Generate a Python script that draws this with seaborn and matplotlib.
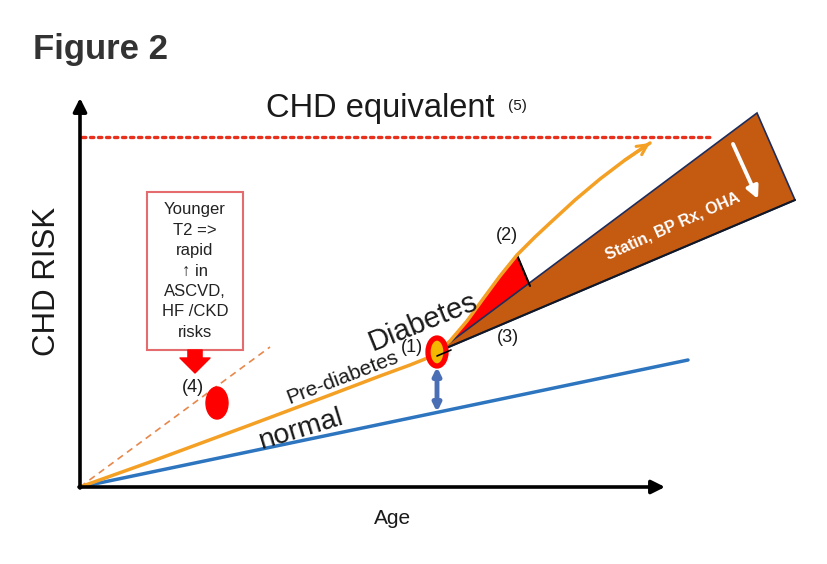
import matplotlib.pyplot as plt
import seaborn as sns
import pandas as pd
from matplotlib.patches import Ellipse, Rectangle

# coordinates: age / risk in arbitrary units (origin at the axes corner)
normal_age = [0, 608]
normal_risk = [0, 127]

curve_age = [0, 70, 170, 250, 300, 330, 345, 357, 370, 387, 403, 420, 437, 455, 470, 495, 520, 545, 570]
curve_risk = [0, 25, 62, 92, 111, 122, 128, 135, 146, 166, 188, 211, 232, 250, 264, 287, 308, 327, 344]

chd_age = [2, 630]
chd_risk = [350, 350]

wedge_age = [357, 677, 715]
wedge_risk = [135, 374, 287]

gap_age = [437, 450]
gap_risk = [232, 201]

young_age = [0, 190]
young_risk = [0, 140]

dx_age, dx_risk = 357, 135
young_dot_age, young_dot_risk = 137, 84

sns.set_theme(style='white')
plt.rcParams['font.family'] = ['Liberation Sans', 'DejaVu Sans']

fig = plt.figure(figsize=(8.28, 5.64), dpi=100)
ax = fig.add_axes([0, 0, 1, 1])
ax.set_xlim(-80, 748)
ax.set_ylim(-77, 487)
ax.axis('off')

orange = '#F4A024'
blue = '#2E75C0'
brown = '#C55A11'

# red area between curve and treatment wedge
i0 = curve_age.index(dx_age)
i1 = curve_age.index(gap_age[0])
red_x = curve_age[i0:i1 + 1] + [gap_age[1]]
red_y = curve_risk[i0:i1 + 1] + [gap_risk[1]]
ax.fill(red_x, red_y, color='#FF0000', zorder=2)
ax.plot(gap_age, gap_risk, color='black', lw=1.5, zorder=3)

# treatment wedge
ax.fill(wedge_age, wedge_risk, facecolor=brown, edgecolor='#1F2D5A', lw=1.2, zorder=2)
ax.plot([wedge_age[0], wedge_age[2]], [wedge_risk[0], wedge_risk[2]], color='#111827', lw=1.5, zorder=3)
ax.annotate('', xy=(678, 288), xytext=(653, 343),
            arrowprops=dict(arrowstyle='-|>', color='white', lw=2.8, mutation_scale=18,
                            shrinkA=0, shrinkB=0), zorder=4)
ax.text(593, 261, 'Statin, BP Rx, OHA', color='white', fontsize=11.5, fontweight='bold',
        rotation=24, ha='center', va='center', rotation_mode='anchor', zorder=4)

# CHD equivalent line
ax.plot(chd_age, chd_risk, color='#E8301C', lw=2.4, linestyle=(0, (1, 1.4)),
        dash_capstyle='round', zorder=2)

# curves
df_normal = pd.DataFrame({'age': normal_age, 'risk': normal_risk})
df_curve = pd.DataFrame({'age': curve_age, 'risk': curve_risk})
sns.lineplot(data=df_normal, x='age', y='risk', color=blue, lw=2.5, ax=ax, zorder=3)
sns.lineplot(data=df_curve, x='age', y='risk', color=orange, lw=2.5, ax=ax, zorder=3)
ax.annotate('', xy=(curve_age[-1], curve_risk[-1]), xytext=(curve_age[-2], curve_risk[-2]),
            arrowprops=dict(arrowstyle='->', color=orange, lw=2.2, mutation_scale=18,
                            shrinkA=0, shrinkB=0), zorder=3)
ax.plot(young_age, young_risk, color='#E8874A', lw=1.2, linestyle=(0, (4, 3)), zorder=2)

# markers
ax.add_patch(Ellipse((dx_age, dx_risk), 18, 28, facecolor='#F5B800', edgecolor='#FF0000',
                     lw=3.8, zorder=5))
ax.plot([dx_age, dx_age + 14], [dx_risk - 4, dx_risk + 2], color='black', lw=1.2, zorder=6)
ax.add_patch(Ellipse((young_dot_age, young_dot_risk), 22, 32, color='#FF0000', zorder=5))
ax.annotate('', xy=(dx_age, 75), xytext=(dx_age, 120),
            arrowprops=dict(arrowstyle='<|-|>', color='#4A6FB5', lw=3.5, mutation_scale=11,
                            shrinkA=0, shrinkB=0), zorder=4)

# axes arrows
ax.annotate('', xy=(0, 389), xytext=(0, -1),
            arrowprops=dict(arrowstyle='-|>', color='black', lw=2.6, mutation_scale=20,
                            shrinkA=0, shrinkB=0), zorder=6)
ax.annotate('', xy=(585, 0), xytext=(-1, 0),
            arrowprops=dict(arrowstyle='-|>', color='black', lw=2.6, mutation_scale=20,
                            shrinkA=0, shrinkB=0), zorder=6)

# text box with arrow
ax.add_patch(Rectangle((67, 137), 96, 158, facecolor='white', edgecolor='#E46C6E', lw=1.5, zorder=4))
ax.text(115, 216, 'Younger\nT2 =>\nrapid\n\u2191 in\nASCVD,\nHF /CKD\nrisks', fontsize=12,
        ha='center', va='center', linespacing=1.45, color='#222222', zorder=5)
ax.annotate('', xy=(115, 114), xytext=(115, 137),
            arrowprops=dict(arrowstyle='simple,head_width=1.8,head_length=0.9,tail_width=0.85',
                            color='#FF0000', shrinkA=0, shrinkB=0), zorder=5)

# labels
txt = '#1a1a1a'
ax.text(-47, 437, 'Figure 2', fontsize=25, fontweight='bold', ha='left', va='center', color='#333333')
ax.text(300, 379, 'CHD equivalent', fontsize=23.5, ha='center', va='center', color=txt)
ax.text(437, 381, '(5)', fontsize=11, ha='center', va='center', color=txt)
ax.text(-33, 206, 'CHD RISK', fontsize=22.5, rotation=90, ha='center', va='center', color=txt)
ax.text(313, -31, 'Age', fontsize=15, ha='center', va='center', color=txt)
ax.text(343, 165, 'Diabetes', fontsize=21, rotation=22, ha='center', va='center',
        rotation_mode='anchor', color=txt)
ax.text(262, 109, 'Pre-diabetes', fontsize=15, rotation=21, ha='center', va='center',
        rotation_mode='anchor', color=txt)
ax.text(221, 57, 'normal', fontsize=20.5, rotation=17, ha='center', va='center',
        rotation_mode='anchor', color=txt)
ax.text(332, 139, '(1)', fontsize=13, ha='center', va='center', color=txt)
ax.text(427, 251, '(2)', fontsize=13, ha='center', va='center', color=txt)
ax.text(428, 149, '(3)', fontsize=13, ha='center', va='center', color=txt)
ax.text(113, 99, '(4)', fontsize=13, ha='center', va='center', color=txt)

fig.savefig('out.png', dpi=100)
